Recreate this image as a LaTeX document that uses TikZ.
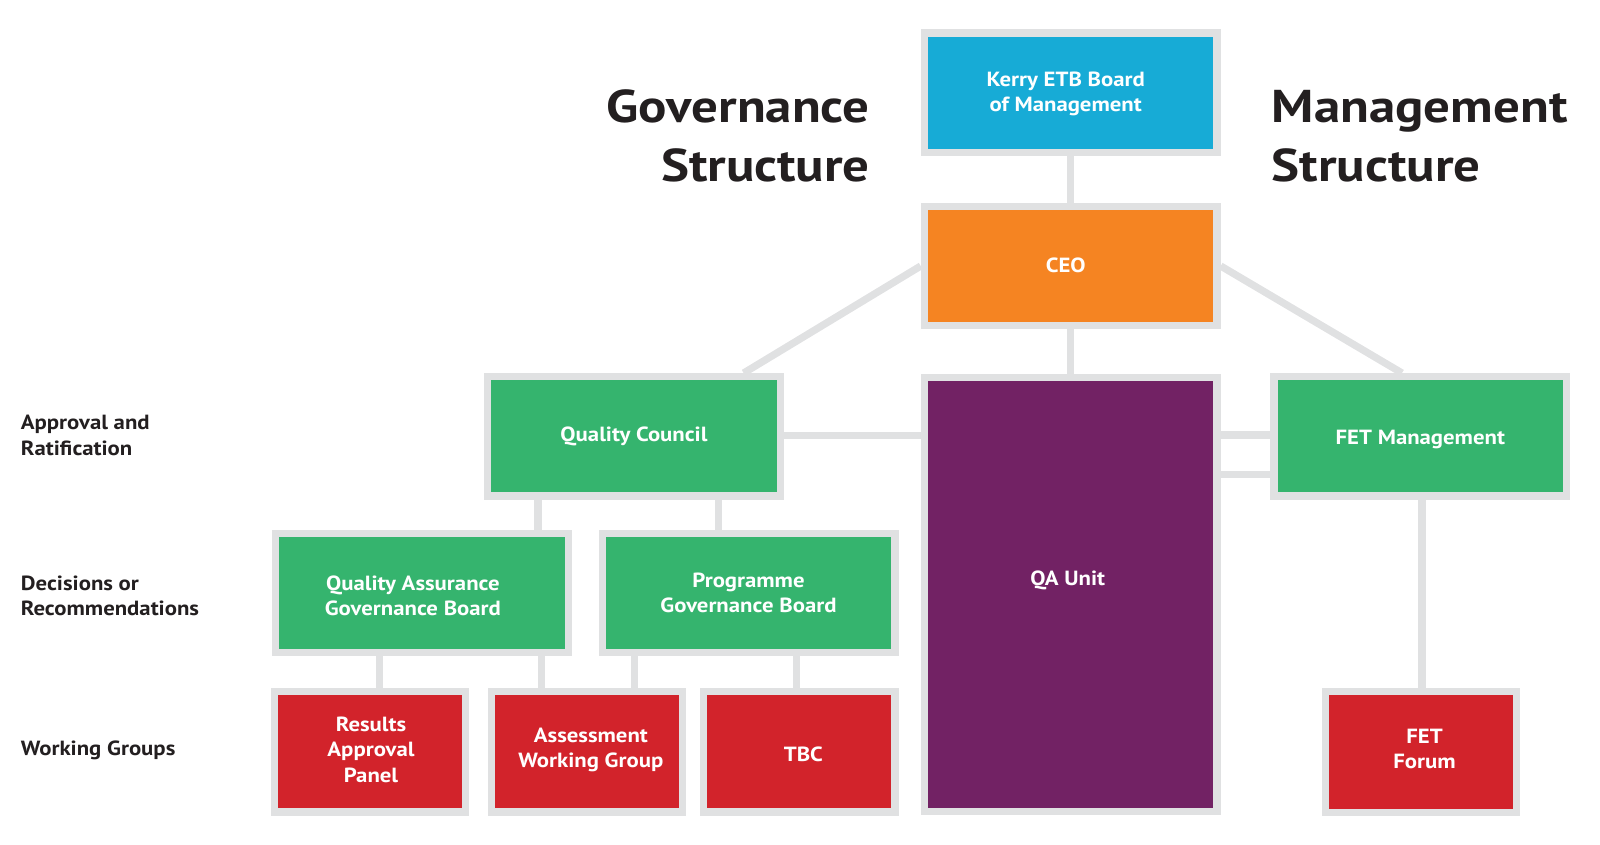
\documentclass[tikz,border=0pt]{standalone}
\usepackage{fontspec}
\setmainfont{PT Sans}[FakeStretch=1.11]
\newfontfamily\titlefont{PT Sans}[FakeStretch=1.15]
\usetikzlibrary{backgrounds}
\definecolor{lg}{RGB}{224,225,226}
\definecolor{kblue}{RGB}{23,171,214}
\definecolor{korange}{RGB}{245,132,34}
\definecolor{kgreen}{RGB}{53,180,110}
\definecolor{kpurple}{RGB}{114,34,100}
\definecolor{kred}{RGB}{210,35,43}
\definecolor{kdark}{RGB}{35,31,32}
\begin{document}
\begin{tikzpicture}[x=1pt,y=-1pt,
  boxbase/.style={draw=lg,line width=7.3pt,inner sep=0pt},
  widebox/.style={boxbase,minimum width=292.7pt,minimum height=119.2pt},
  redbox/.style={boxbase,minimum width=191.2pt,minimum height=120.7pt,fill=kred},
  btext/.style={inner sep=0pt,text=white,align=center,
    font=\fontsize{20.5}{25.5}\selectfont\bfseries},
  conn/.style={draw=lg,line width=7.3pt},
  sidelbl/.style={inner sep=0pt,text=kdark,anchor=base west,
    font=\fontsize{20.5}{25.7}\selectfont\bfseries},
  titlelbl/.style={inner sep=0pt,text=kdark,
    font=\fontsize{46}{59}\titlefont\bfseries}
]
\useasboundingbox (0,0) rectangle (1600,844);

% boxes
\node[widebox,fill=kblue] (kerry) at (1070.7,92.7) {};
\node[widebox,fill=korange] (ceo) at (1070.7,266) {};
\node[widebox,fill=kpurple,minimum height=433.7pt] (qa) at (1070.7,594.5) {};
\node[widebox,fill=kgreen] (qc) at (634,436.3) {};
\node[widebox,fill=kgreen] (fetm) at (1420.3,436.3) {};
\node[widebox,fill=kgreen] (qagb) at (421.9,593) {};
\node[widebox,fill=kgreen] (pgb) at (748.5,593) {};
\node[redbox] (rap) at (370,751.7) {};
\node[redbox] (awg) at (586.9,751.7) {};
\node[redbox] (tbc) at (799.4,751.7) {};
\node[redbox,minimum width=190.7pt] (fetf) at (1421,752) {};

% box texts
\node[btext] (kerryt) at ([xshift=-5pt,yshift=-1pt]kerry.center) {Kerry ETB Board\\of Management};
\node[btext] (ceot) at ([xshift=-5pt,yshift=1pt]ceo.center) {CEO};
\node[btext,anchor=base] (qat) at ([xshift=-3pt]qa.center |- 0,585) {QA Unit};
\node[btext] (qct) at (qc.center) {Quality Council};
\node[btext] (fetmt) at ([yshift=-3pt]fetm.center) {FET Management};
\node[btext] (qagbt) at ([xshift=-9pt,yshift=-3pt]qagb.center) {Quality Assurance\\Governance Board};
\node[btext] (pgbt) at (pgb.center) {Programme\\Governance Board};
\node[btext] (rapt) at ([xshift=1pt,yshift=2pt]rap.center) {Results\\Approval\\Panel};
\node[btext] (awgt) at ([xshift=4pt,yshift=2pt]awg.center) {Assessment\\Working Group};
\node[btext] (tbct) at ([xshift=4pt,yshift=-3pt]tbc.center) {TBC};
\node[btext] (fetft) at ([xshift=3.5pt,yshift=3pt]fetf.center) {FET\\Forum};

% connectors
\begin{pgfonlayer}{background}
\draw[conn] (kerry.south) -- (ceo.north);
\draw[conn] (ceo.south) -- (qa.north);
\draw[conn] (ceo.west) -- ([xshift=-40.35pt]qc.north east);
\draw[conn] (ceo.east) -- ([xshift=131.7pt]fetm.north west);
\draw[conn] ([yshift=1pt]qc.east) -- ([yshift=1pt]qc.east -| qa.west);
\draw[conn] ([yshift=1.3pt]fetm.west) -- ([yshift=1.3pt]fetm.west -| qa.east);
\draw[conn] ([yshift=-38.4pt]fetm.west) -- ([yshift=-38.4pt]fetm.west -| qa.east);
\draw[conn] ([xshift=-96pt]qc.south) -- ([xshift=-96pt]qc.south |- qagb.north);
\draw[conn] ([xshift=84.3pt]qc.south) -- ([xshift=84.3pt]qc.south |- pgb.north);
\draw[conn] ([xshift=-42.3pt]qagb.south) -- ([xshift=-42.3pt]qagb.south |- rap.north);
\draw[conn] ([xshift=119.9pt]qagb.south) -- ([xshift=119.9pt]qagb.south |- awg.north);
\draw[conn] ([xshift=-114.1pt]pgb.south) -- ([xshift=-114.1pt]pgb.south |- awg.north);
\draw[conn] ([xshift=48.3pt]pgb.south) -- ([xshift=48.3pt]pgb.south |- tbc.north);
\draw[conn] ([xshift=1.7pt]fetm.south) -- ([xshift=1.7pt]fetm.south |- fetf.north);
\end{pgfonlayer}

% titles
\node[titlelbl,anchor=base east] (govt) at (870,122)
  {\begin{tabular}[t]{@{}r@{}}Governance\\Structure\end{tabular}};
\node[titlelbl,anchor=base west] (mgmt) at (1271.7,122)
  {\begin{tabular}[t]{@{}l@{}}Management\\Structure\end{tabular}};

% side labels
\node[sidelbl] (l1) at (20.7,429.3) {\begin{tabular}[t]{@{}l@{}}Approval and\\Ratification\end{tabular}};
\node[sidelbl] (l2) at (20.7,590) {\begin{tabular}[t]{@{}l@{}}Decisions or\\Recommendations\end{tabular}};
\node[sidelbl] (l3) at (20.7,755.8) {Working Groups};
\end{tikzpicture}
\end{document}
